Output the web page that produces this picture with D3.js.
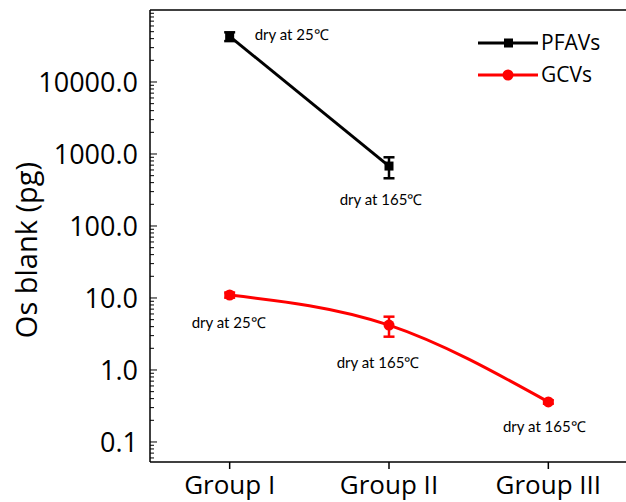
<!DOCTYPE html>
<html>
<head>
<meta charset="utf-8">
<script src="https://cdn.jsdelivr.net/npm/d3@7"></script>
<style>
  body { margin: 0; background: #fff; }
  svg text { font-family: "Open Sans", "Noto Sans", sans-serif; }
  .note { font-family: Lato, "Open Sans", sans-serif; }
</style>
</head>
<body>
<svg id="chart" width="626" height="502"></svg>
<script>
// groups on the x axis
var groups = ["Group I", "Group II", "Group III"];

// PFAVs series (pg)
var pfavValues = [43000, 680];
var pfavErrors = [6000, 220];
var pfavNotes = ["dry at 25\u2103", "dry at 165\u2103"];

// GCVs series (pg)
var gcvValues = [11.0, 4.2, 0.36];
var gcvErrors = [0.9, 1.3, 0.02];
var gcvNotes = ["dry at 25\u2103", "dry at 165\u2103", "dry at 165\u2103"];

var yTickValues = [0.1, 1, 10, 100, 1000, 10000];

var svg = d3.select("#chart");
var plotLeft = 150, plotRight = 628, plotTop = 10, plotBottom = 462;

var x = d3.scaleLinear().domain([0.5, 3.5]).range([plotLeft, plotRight]);
var y = d3.scaleLog().domain([0.0527, 100000]).range([plotBottom, plotTop]);

// frame
svg.append("line").attr("x1", plotLeft).attr("x2", plotRight).attr("y1", plotTop).attr("y2", plotTop)
  .attr("stroke", "#000").attr("stroke-width", 1.5);

// y axis with inward ticks
var minor = [];
for (var e = -2; e <= 4; e++) {
  for (var m = 1; m <= 9; m++) {
    var v = m * Math.pow(10, e);
    if (v >= y.domain()[0] && v <= y.domain()[1]) minor.push(v);
  }
}
var yAxisG = svg.append("g");
yAxisG.append("line").attr("x1", plotLeft).attr("x2", plotLeft).attr("y1", plotTop).attr("y2", plotBottom)
  .attr("stroke", "#000").attr("stroke-width", 1.5);
yAxisG.selectAll("line.tick").data(minor).enter().append("line")
  .attr("class", "tick")
  .attr("x1", plotLeft)
  .attr("x2", function(d) { return plotLeft + (Math.abs(Math.log10(d) - Math.round(Math.log10(d))) < 1e-9 ? 7 : 4); })
  .attr("y1", function(d) { return y(d); })
  .attr("y2", function(d) { return y(d); })
  .attr("stroke", "#000").attr("stroke-width", 1);
yAxisG.selectAll("text").data(yTickValues).enter().append("text")
  .attr("x", plotLeft - 12)
  .attr("y", function(d) { return y(d); })
  .attr("dy", "0.36em")
  .attr("text-anchor", "end")
  .attr("font-size", 27)
  .text(function(d) { return d.toFixed(1); });

svg.append("text")
  .attr("transform", "translate(37,250) rotate(-90)")
  .attr("text-anchor", "middle")
  .attr("font-size", 29)
  .text("Os blank (pg)");

// x axis
var xAxisG = svg.append("g").attr("transform", "translate(0," + plotBottom + ")");
xAxisG.append("line").attr("x1", plotLeft).attr("x2", plotRight).attr("stroke", "#000").attr("stroke-width", 1.5);
xAxisG.selectAll("line.tick").data(groups).enter().append("line")
  .attr("x1", function(d, i) { return x(i + 1); })
  .attr("x2", function(d, i) { return x(i + 1); })
  .attr("y1", 0).attr("y2", 7)
  .attr("stroke", "#000").attr("stroke-width", 1.5);
xAxisG.selectAll("text").data(groups).enter().append("text")
  .attr("x", function(d, i) { return x(i + 1); })
  .attr("y", 32)
  .attr("text-anchor", "middle")
  .attr("font-size", 26)
  .text(function(d) { return d; });

function drawSeries(values, errors, color, curve, marker) {
  var pts = values.map(function(v, i) { return { i: i + 1, v: v, e: errors[i] }; });
  var line = d3.line().x(function(d) { return x(d.i); }).y(function(d) { return y(d.v); }).curve(curve);
  svg.append("path").datum(pts).attr("d", line)
    .attr("fill", "none").attr("stroke", color).attr("stroke-width", 3);
  var g = svg.selectAll(null).data(pts).enter().append("g");
  g.append("line")
    .attr("x1", function(d) { return x(d.i); }).attr("x2", function(d) { return x(d.i); })
    .attr("y1", function(d) { return y(d.v + d.e); }).attr("y2", function(d) { return y(d.v - d.e); })
    .attr("stroke", color).attr("stroke-width", 2.5);
  [1, -1].forEach(function(s) {
    g.append("line")
      .attr("x1", function(d) { return x(d.i) - 5.5; }).attr("x2", function(d) { return x(d.i) + 5.5; })
      .attr("y1", function(d) { return y(d.v + s * d.e); }).attr("y2", function(d) { return y(d.v + s * d.e); })
      .attr("stroke", color).attr("stroke-width", 2.5);
  });
  if (marker == "square") {
    g.append("rect")
      .attr("x", function(d) { return x(d.i) - 4.5; }).attr("y", function(d) { return y(d.v) - 4.5; })
      .attr("width", 9).attr("height", 9).attr("fill", color);
  } else {
    g.append("circle")
      .attr("cx", function(d) { return x(d.i); }).attr("cy", function(d) { return y(d.v); })
      .attr("r", 5.5).attr("fill", color);
  }
}

drawSeries(pfavValues, pfavErrors, "#000", d3.curveLinear, "square");
drawSeries(gcvValues, gcvErrors, "#ff0000", d3.curveNatural, "circle");

// point notes
var notes = [
  { i: 1, v: pfavValues[0], t: pfavNotes[0], dx: 62, dy: -2 },
  { i: 2, v: pfavValues[1], t: pfavNotes[1], dx: -8, dy: 34 },
  { i: 1, v: gcvValues[0], t: gcvNotes[0], dx: -1, dy: 28 },
  { i: 2, v: gcvValues[1], t: gcvNotes[1], dx: -11, dy: 38 },
  { i: 3, v: gcvValues[2], t: gcvNotes[2], dx: -4, dy: 25 }
];
svg.selectAll("text.note").data(notes).enter().append("text")
  .attr("class", "note")
  .attr("x", function(d) { return x(d.i) + d.dx; })
  .attr("y", function(d) { return y(d.v) + d.dy; })
  .attr("text-anchor", "middle")
  .attr("dy", "0.35em")
  .attr("font-size", 15)
  .text(function(d) { return d.t; });

// legend
var legend = [{ name: "PFAVs", color: "#000", marker: "square" }, { name: "GCVs", color: "#ff0000", marker: "circle" }];
var lg = svg.selectAll("g.legend").data(legend).enter().append("g")
  .attr("transform", function(d, i) { return "translate(478," + (43 + i * 32) + ")"; });
lg.append("line").attr("x1", 0).attr("x2", 60).attr("stroke", function(d) { return d.color; }).attr("stroke-width", 3);
lg.each(function(d) {
  var s = d3.select(this);
  if (d.marker == "square") s.append("rect").attr("x", 26).attr("y", -4.5).attr("width", 9).attr("height", 9).attr("fill", d.color);
  else s.append("circle").attr("cx", 30).attr("r", 5.5).attr("fill", d.color);
});
lg.append("text").attr("x", 63).attr("dy", "0.35em").attr("font-size", 21).text(function(d) { return d.name; });
</script>
</body>
</html>
